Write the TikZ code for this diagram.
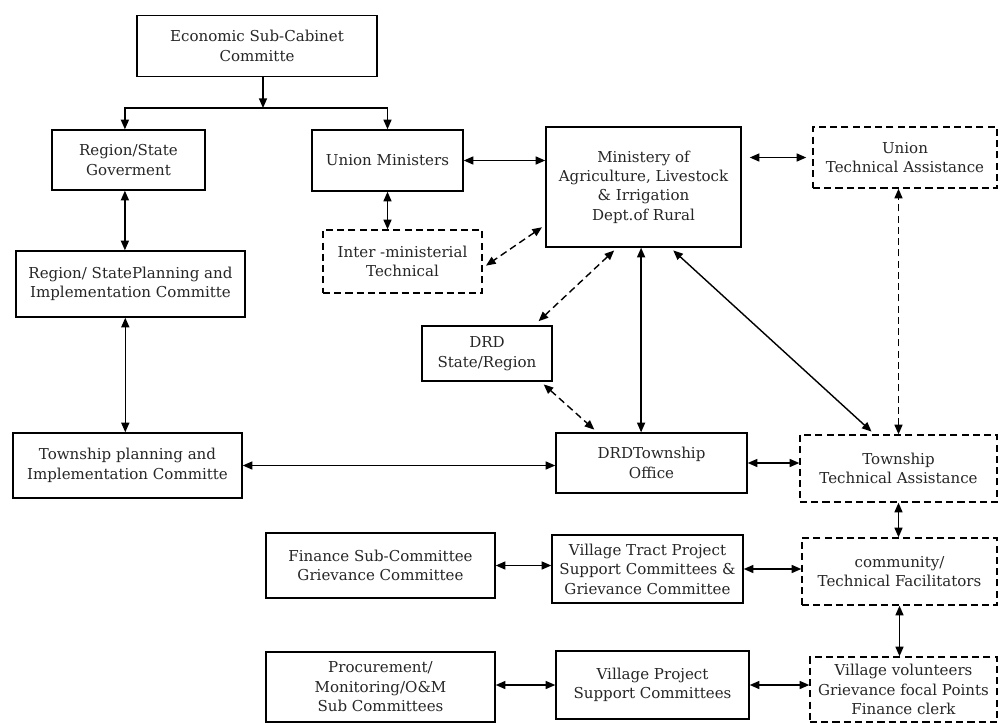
\documentclass[tikz,border=0pt]{standalone}
\usepackage{fontspec}
\setmainfont{DejaVu Serif}
\usetikzlibrary{arrows.meta,positioning,calc}
\tikzset{
    box/.style={
        draw,
        align=center,
        line width=1pt,
        inner sep=2pt,
        text=black!85,
        font=\fontsize{10.7}{13.8}\selectfont
    },
    dbox/.style={
        box,
        dash pattern=on 5pt off 3pt
    },
    flow/.style={<->, line width=1pt},
    dflow/.style={<->, line width=1pt, dash pattern=on 5pt off 3pt},
    down/.style={->, line width=1pt}
}

\begin{document}
\begin{tikzpicture}[x=0.025cm, y=-0.025cm, >={Triangle[length=2.4mm,width=2mm]}]
    \useasboundingbox (0,0) rectangle (1000,724);

    % top of the chart
    \node[box, minimum width=6cm, minimum height=1.525cm] (econ) at (257,46) {Economic Sub-Cabinet\\Committe};
    \node[box, minimum width=3.825cm, minimum height=1.5cm] (reggov) at (128.5,160) {Region/State\\Goverment};
    \node[box, minimum width=3.775cm, minimum height=1.525cm] (unimin) at (387.5,160.5) {Union Ministers};
    \node[box, minimum width=4.875cm, minimum height=3cm] (ministry) at (643.5,187) {Ministery of\\Agriculture, Livestock\\\& Irrigation\\Dept.of Rural};
    \node[dbox, minimum width=4.6cm, minimum height=1.525cm] (unionta) at (905,157.5) {Union\\Technical Assistance};
    \node[dbox, minimum width=3.975cm, minimum height=1.575cm] (interm) at (402.5,261.5) {Inter -ministerial\\Technical};
    \node[box, minimum width=5.725cm, minimum height=1.65cm] (regplan) at (130.5,284) {Region/ StatePlanning and\\Implementation Committe};
    \node[box, minimum width=3.25cm, minimum height=1.375cm] (drdstate) at (487,353.5) {DRD\\State/Region};

    % township level
    \node[box, minimum width=5.725cm, minimum height=1.625cm] (twpplan) at (127.5,465.5) {Township planning and\\Implementation Committe};
    \node[box, minimum width=4.775cm, minimum height=1.5cm] (drdtwp) at (651.5,463) {DRDTownship\\Office};
    \node[dbox, minimum width=4.925cm, minimum height=1.675cm] (twpta) at (898.5,468.5) {Township\\Technical Assistance};

    % village level
    \node[box, minimum width=5.725cm, minimum height=1.625cm] (finance) at (380.5,565.5) {Finance Sub-Committee\\Grievance Committee};
    \node[box, minimum width=4.775cm, minimum height=1.7cm] (vtract) at (647.5,569) {Village Tract Project\\Support Committees \&\\Grievance Committee};
    \node[dbox, minimum width=4.875cm, minimum height=1.675cm] (commfac) at (899.5,571.5) {community/\\Technical Facilitators};
    \node[box, minimum width=5.725cm, minimum height=1.75cm] (procure) at (380.5,687) {Procurement/\\Monitoring/O\&M\\Sub Committees};
    \node[box, minimum width=4.825cm, minimum height=1.7cm] (vproject) at (652.5,685) {Village Project\\Support Committees};
    \node[dbox, minimum width=4.675cm, minimum height=1.625cm] (volunt) at (903.5,689.5) {Village volunteers\\Grievance focal Points\\Finance clerk};

    % connectors
    \coordinate (split) at (263,108);
    \draw[down] (econ.south -| split) -- (split);
    \draw[down] (split) -| ([xshift=-0.09cm]reggov.north);
    \draw[down] (split) -| (unimin.north);
    \draw[flow] ([xshift=-0.09cm]reggov.south) -- ([xshift=-0.09cm]reggov.south |- regplan.north);
    \draw[flow] (unimin.south) -- (unimin.south |- interm.north);
    \draw[flow] (unimin.east) -- (unimin.east -| ministry.west);
    \draw[flow, shorten <=2mm, shorten >=1.5mm] (ministry.east |- unionta.west) -- (unionta.west);
    \draw[dflow, shorten <=1mm, shorten >=1mm] ([yshift=-0.95cm]ministry.west) -- ([yshift=-0.16cm]interm.east);
    \draw[dflow, shorten <=1mm, shorten >=1.5mm] ([xshift=-0.66cm]ministry.south) -- ([xshift=1.18cm]drdstate.north);
    \draw[flow] ([xshift=-0.06cm]ministry.south) -- ([xshift=-0.06cm]ministry.south |- drdtwp.north);
    \draw[flow, shorten <=1mm, shorten >=1mm] ([xshift=0.67cm]ministry.south) -- ([xshift=-0.6cm]twpta.north);
    \draw[dflow] (twpta.north) -- (twpta.north |- unionta.south);
    \draw[dflow, shorten <=1mm, shorten >=1mm] ([xshift=-0.3cm]drdstate.south east) -- ([xshift=1.05cm]drdtwp.north west);
    \draw[flow] ([xshift=-0.13cm]regplan.south) -- ([xshift=-0.13cm]regplan.south |- twpplan.north);
    \draw[flow] (twpplan.east) -- (twpplan.east -| drdtwp.west);
    \draw[flow] (drdtwp.east) -- (drdtwp.east -| twpta.west);
    \draw[flow] (twpta.south) -- (twpta.south |- commfac.north);
    \draw[flow] (commfac.south) -- (commfac.south |- volunt.north);
    \draw[flow] (finance.east) -- (finance.east -| vtract.west);
    \draw[flow] (vtract.east) -- (vtract.east -| commfac.west);
    \draw[flow] (vproject.west -| procure.east) -- (vproject.west);
    \draw[flow] (vproject.east) -- (vproject.east -| volunt.west);
\end{tikzpicture}
\end{document}
